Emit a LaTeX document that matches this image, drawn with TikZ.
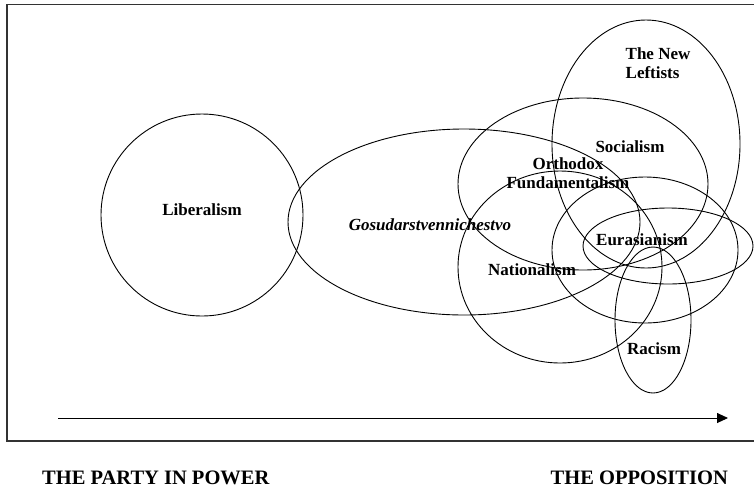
\documentclass[tikz,border=0pt]{standalone}
\usepackage{fontspec}
\setmainfont{Liberation Serif}
\usetikzlibrary{arrows.meta}
\begin{document}
\begin{tikzpicture}[x=1pt,y=-1pt,
	lbl/.style={font=\fontsize{17}{19}\selectfont\bfseries, align=center, inner sep=0pt},
	side/.style={font=\fontsize{20.5}{22}\selectfont\bfseries, inner sep=0pt},
	set/.style={line width=0.9pt}]
	\useasboundingbox (0,0) rectangle (754,491);
	% frame and axis
	\draw[line width=1.6pt,black!80] (760,4.5) -- (7,4.5) -- (7,441) -- (760,441);
	\coordinate (start) at (58,418);
	\coordinate (stop) at (728,418);
	\draw[line width=0.9pt,-{Triangle[length=11pt,width=10pt]}] (start) -- (stop);
	% the ellipses
	\draw[set] (202,215) circle (101pt);
	\draw[set] (464,222) ellipse (176pt and 93pt);
	\draw[set] (583,184) ellipse (125pt and 86pt);
	\draw[set] (560,267) ellipse (102pt and 96pt);
	\draw[set] (646,144) ellipse (94pt and 124pt);
	\draw[set] (645,250) ellipse (93pt and 73pt);
	\draw[set] (668,246) ellipse (85pt and 38pt);
	\draw[set] (653,320) ellipse (38pt and 73pt);
	% labels
	\node[lbl] (liberalism) at (202,210) {Liberalism};
	\node[lbl] (gosud) at (430,225) {\itshape Gosudarstvennichestvo};
	\node[lbl,align=left] (leftists) at (658,63) {The New\\Leftists};
	\node[lbl] (socialism) at (630,147) {Socialism};
	\node[lbl] (orthodox) at (568,173) {Orthodox\\Fundamentalism};
	\node[lbl] (eurasianism) at (642,240) {Eurasianism};
	\node[lbl] (nationalism) at (532,270) {Nationalism};
	\node[lbl] (racism) at (654,349) {Racism};
	\node[side,anchor=west] (power) at (42,478) {THE PARTY IN POWER};
	\node[side,anchor=east] (opposition) at (728,478) {THE OPPOSITION};
\end{tikzpicture}
\end{document}
